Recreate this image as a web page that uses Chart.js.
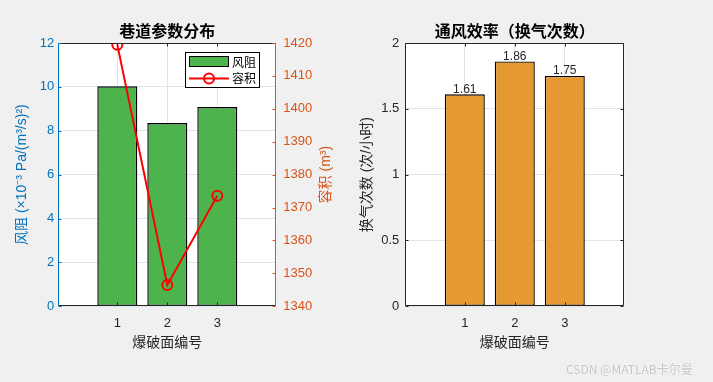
<!DOCTYPE html>
<html>
<head>
<meta charset="utf-8">
<script src="https://cdn.jsdelivr.net/npm/chart.js@4"></script>
<style>
  html, body { margin: 0; padding: 0; background: #f0f0f0; }
  body { width: 713px; height: 382px; position: relative; overflow: hidden; }
  canvas { position: absolute; top: 0; }
  #leftChart { left: 0; }
  #rightChart { left: 356px; }
  #mark {
    position: absolute; left: 566px; top: 360px;
    font: 12px "Noto Sans CJK SC", sans-serif; color: #c4c4c4;
    text-shadow: 0 0 1px #fff, 0 0 1px #fff;
    white-space: nowrap;
  }
</style>
</head>
<body>
<canvas id="leftChart" width="356" height="382" style="width:356px;height:382px"></canvas>
<canvas id="rightChart" width="357" height="382" style="width:357px;height:382px"></canvas>
<div id="mark">CSDN @MATLAB卡尔曼</div>
<script>
// ── DATA ──────────────────────────────────────────────────────────────────────
const faces = [1, 2, 3];
const resistance = [10.03, 8.35, 9.08];      // ×10^-3 Pa/(m³/s)²
const volume = [1419.5, 1346.5, 1373.6];     // m³
const airChanges = [1.61, 1.86, 1.75];       // 次/小时

const faceTicks = [1, 2, 3];
const resistanceTicks = [0, 2, 4, 6, 8, 10, 12];
const volumeTicks = [1340, 1350, 1360, 1370, 1380, 1390, 1400, 1410, 1420];
const airTicks = [0, 0.5, 1, 1.5, 2];

const BLUE = "#0072BD";
const ORANGE = "#D95319";
const INK = "#262626";
const CJK = "'Noto Sans CJK SC', sans-serif";
const LATIN = "'Liberation Sans', Arial, 'Noto Sans CJK SC', sans-serif";

function fixTicks(values) {
  return scale => { scale.ticks = values.map(v => ({ value: v })); };
}
const plain = v => String(v);

// ── MATLAB-STYLE FRAME, TEXT, LEGEND ──────────────────────────────────────────
const matlabFrame = {
  id: "matlabFrame",
  beforeDraw(chart) {
    const { ctx, chartArea: a } = chart;
    ctx.save();
    ctx.fillStyle = "#ffffff";
    ctx.fillRect(a.left, a.top, a.right - a.left, a.bottom - a.top);
    ctx.restore();
  },
  afterDraw(chart, args, opts) {
    const { ctx, chartArea: a, scales } = chart;
    const cx = (a.left + a.right) / 2;
    const cy = (a.top + a.bottom) / 2;
    const tick = 3;
    ctx.save();
    ctx.lineWidth = 1;

    // frame
    const line = (x1, y1, x2, y2, c) => {
      ctx.strokeStyle = c;
      ctx.beginPath(); ctx.moveTo(x1, y1); ctx.lineTo(x2, y2); ctx.stroke();
    };
    const L = Math.round(a.left) + 0.5, R = Math.round(a.right) - 0.5;
    const T = Math.round(a.top) + 0.5, B = Math.round(a.bottom) - 0.5;
    line(L, T, R, T, INK);
    line(L, B, R, B, INK);
    line(L, T, L, B, opts.leftColor);
    line(R, T, R, B, opts.rightColor);

    // inward tick marks
    scales.x.ticks.forEach(t => {
      const x = Math.round(scales.x.getPixelForValue(t.value)) + 0.5;
      line(x, B, x, B - tick, INK);
      line(x, T, x, T + tick, INK);
    });
    scales.y.ticks.forEach(t => {
      const y = Math.round(scales.y.getPixelForValue(t.value)) + 0.5;
      line(L, y, L + tick, y, opts.leftColor);
      if (!scales.y1) line(R, y, R - tick, y, opts.rightColor);
    });
    if (scales.y1) {
      scales.y1.ticks.forEach(t => {
        const y = Math.round(scales.y1.getPixelForValue(t.value)) + 0.5;
        line(R, y, R - tick, y, opts.rightColor);
      });
    }

    // title and axis labels
    ctx.textAlign = "center";
    ctx.textBaseline = "middle";
    ctx.fillStyle = "#000000";
    ctx.font = "bold 16px " + CJK;
    ctx.fillText(opts.title, cx, 31);

    ctx.fillStyle = INK;
    ctx.font = "14px " + CJK;
    ctx.fillText(opts.xLabel, cx, 341.5);

    const vLabel = (text, x, color) => {
      ctx.save();
      ctx.translate(x, cy);
      ctx.rotate(-Math.PI / 2);
      ctx.fillStyle = color;
      ctx.font = "14px " + LATIN;
      ctx.fillText(text, 0, 0);
      ctx.restore();
    };
    vLabel(opts.yLabel, opts.yLabelX, opts.leftColor);
    if (opts.y1Label) vLabel(opts.y1Label, opts.y1LabelX, opts.rightColor);

    // value labels on bars
    if (opts.barLabels) {
      const meta = chart.getDatasetMeta(0);
      ctx.fillStyle = INK;
      ctx.font = "12px " + LATIN;
      ctx.textBaseline = "alphabetic";
      meta.data.forEach((bar, i) => {
        ctx.fillText(chart.data.datasets[0].data[i].y.toFixed(2), bar.x, bar.y - 1.5);
      });
    }

    // legend box
    if (opts.legend) {
      const g = opts.legend;
      ctx.fillStyle = "#ffffff";
      ctx.fillRect(g.x, g.y, g.w, g.h);
      ctx.strokeStyle = "#000000";
      ctx.strokeRect(g.x + 0.5, g.y + 0.5, g.w - 1, g.h - 1);

      const bar = chart.data.datasets[1];
      const ln = chart.data.datasets[0];
      ctx.fillStyle = bar.backgroundColor;
      ctx.fillRect(g.x + 4, g.y + 4, 40, 11);
      ctx.strokeRect(g.x + 4.5, g.y + 4.5, 39, 10);

      ctx.lineWidth = 2;
      line(g.x + 4, g.y + 26.5, g.x + 44, g.y + 26.5, ln.borderColor);
      ctx.beginPath();
      ctx.arc(g.x + 24, g.y + 26.5, 5, 0, Math.PI * 2);
      ctx.stroke();

      ctx.fillStyle = "#000000";
      ctx.font = "12px " + CJK;
      ctx.textAlign = "left";
      ctx.textBaseline = "middle";
      ctx.fillText(bar.label, g.x + 47, g.y + 10);
      ctx.fillText(ln.label, g.x + 47, g.y + 26.5);
    }
    ctx.restore();
  }
};

const tickFont = { family: LATIN, size: 13 };

// ── LEFT: 巷道参数分布 ────────────────────────────────────────────────────────
new Chart(document.getElementById("leftChart"), {
  type: "bar",
  data: {
    datasets: [{
      type: "line",
      label: "容积",
      data: faces.map((f, i) => ({ x: f, y: volume[i] })),
      yAxisID: "y1",
      borderColor: "#ff0000",
      borderWidth: 2,
      pointRadius: 5,
      pointBorderWidth: 2,
      pointBackgroundColor: "rgba(0,0,0,0)",
      pointBorderColor: "#ff0000",
      order: 0
    }, {
      type: "bar",
      label: "风阻",
      data: faces.map((f, i) => ({ x: f, y: resistance[i] })),
      yAxisID: "y",
      backgroundColor: "#4DB34D",
      borderColor: "#000000",
      borderWidth: 1.4,
      borderSkipped: false,
      barPercentage: 0.8,
      categoryPercentage: 1,
      order: 1
    }]
  },
  options: {
    responsive: false,
    animation: false,
    layout: { padding: { top: 43, left: 0, right: 0, bottom: 0 } },
    plugins: {
      legend: { display: false },
      tooltip: { enabled: false },
      matlabFrame: {
        title: "巷道参数分布",
        xLabel: "爆破面编号",
        yLabel: "风阻 (×10⁻³ Pa/(m³/s)²)",
        yLabelX: 22,
        y1Label: "容积 (m³)",
        y1LabelX: 326,
        leftColor: BLUE,
        rightColor: ORANGE,
        legend: { x: 185, y: 52, w: 75, h: 36 }
      }
    },
    scales: {
      x: {
        type: "linear",
        offset: false,
        min: -0.18,
        max: 4.18,
        afterBuildTicks: fixTicks(faceTicks),
        afterFit: s => { s.height = 75.7; },
        grid: { color: "#e3e3e3", drawTicks: false, offset: false },
        border: { display: false },
        ticks: { color: INK, font: tickFont, padding: 9, callback: plain }
      },
      y: {
        position: "left",
        min: 0,
        max: 12,
        afterBuildTicks: fixTicks(resistanceTicks),
        afterFit: s => { s.width = 58.3; },
        grid: { color: "#dce5ec", drawTicks: false },
        border: { display: false },
        ticks: { color: BLUE, font: tickFont, padding: 4, callback: plain }
      },
      y1: {
        position: "right",
        min: 1340,
        max: 1420,
        afterBuildTicks: fixTicks(volumeTicks),
        afterFit: s => { s.width = 79.7; },
        grid: { display: false, drawTicks: false },
        border: { display: false },
        ticks: { color: ORANGE, font: tickFont, padding: 7, callback: plain }
      }
    }
  },
  plugins: [matlabFrame]
});

// ── RIGHT: 通风效率（换气次数） ────────────────────────────────────────────────
new Chart(document.getElementById("rightChart"), {
  type: "bar",
  data: {
    datasets: [{
      label: "换气次数",
      data: faces.map((f, i) => ({ x: f, y: airChanges[i] })),
      backgroundColor: "#E69933",
      borderColor: "#000000",
      borderWidth: 1.4,
      borderSkipped: false,
      barPercentage: 0.8,
      categoryPercentage: 1
    }]
  },
  options: {
    responsive: false,
    animation: false,
    layout: { padding: { top: 43, left: 0, right: 88.7, bottom: 0 } },
    plugins: {
      legend: { display: false },
      tooltip: { enabled: false },
      matlabFrame: {
        title: "通风效率（换气次数）",
        xLabel: "爆破面编号",
        yLabel: "换气次数 (次/小时)",
        yLabelX: 11,
        leftColor: INK,
        rightColor: INK,
        barLabels: true
      }
    },
    scales: {
      x: {
        type: "linear",
        offset: false,
        min: -0.19,
        max: 4.19,
        afterBuildTicks: fixTicks(faceTicks),
        afterFit: s => { s.height = 75.7; },
        grid: { color: "#e3e3e3", drawTicks: false, offset: false },
        border: { display: false },
        ticks: { color: INK, font: tickFont, padding: 9, callback: plain }
      },
      y: {
        min: 0,
        max: 2,
        afterBuildTicks: fixTicks(airTicks),
        afterFit: s => { s.width = 49.3; },
        grid: { color: "#e3e3e3", drawTicks: false },
        border: { display: false },
        ticks: { color: INK, font: tickFont, padding: 6, callback: plain }
      }
    }
  },
  plugins: [matlabFrame]
});
</script>
</body>
</html>
